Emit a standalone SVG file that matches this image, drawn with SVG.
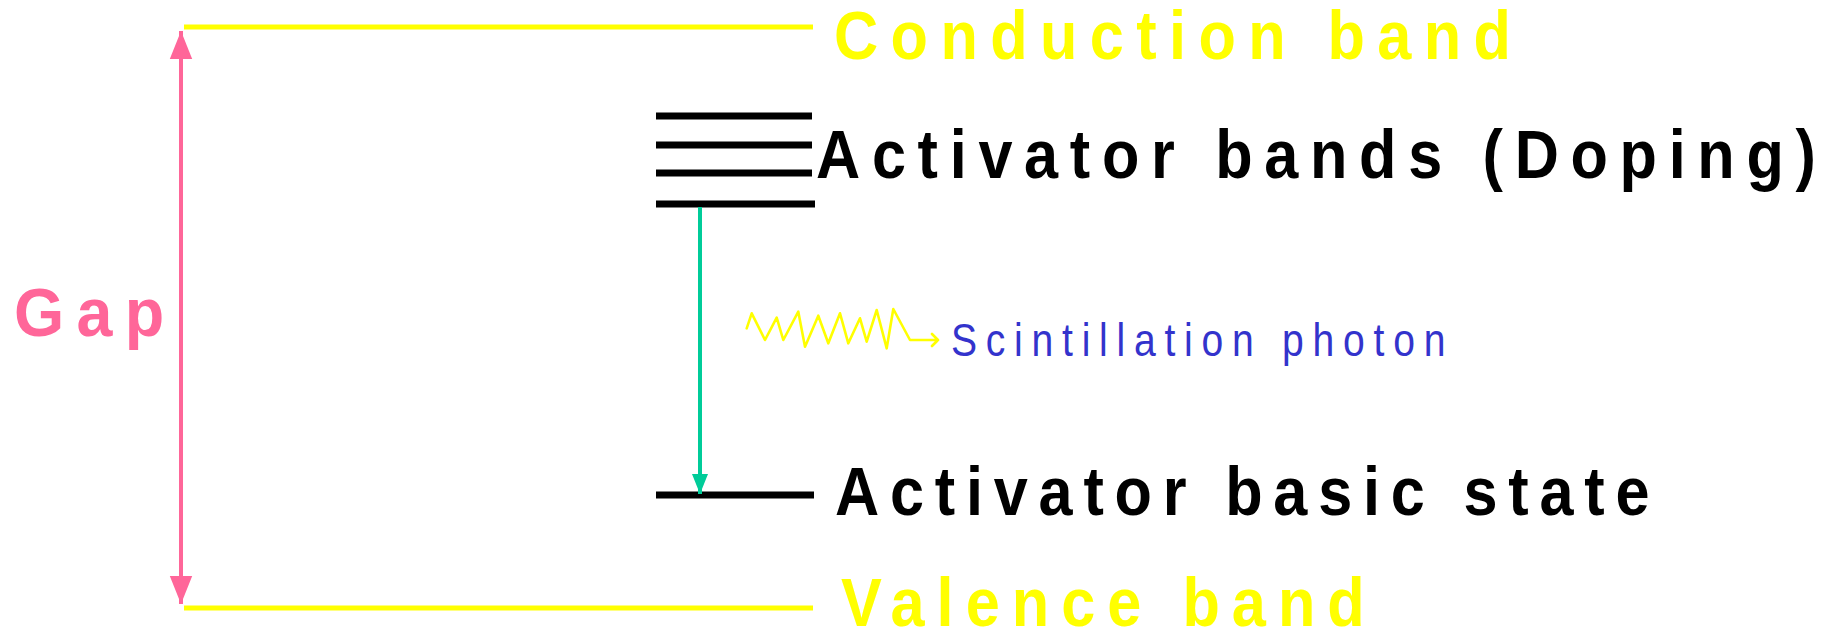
<svg xmlns="http://www.w3.org/2000/svg" width="1836" height="631" viewBox="0 0 1836 631">
<style>
.big{font-family:"Liberation Sans",Arial,sans-serif;font-weight:bold;font-size:68px}
.yel{fill:#ffff00}
.blk{fill:#000}
.band{stroke:#ffff00;stroke-width:5;fill:none}
.lvl{stroke:#000;stroke-width:7;fill:none}
</style>
<defs>
<marker id="pinkHead" viewBox="0 0 10 10" refX="10" refY="5" markerWidth="7" markerHeight="7" orient="auto-start-reverse" markerUnits="strokeWidth">
<path d="M0,1 L10,5 L0,9 Z" fill="#ff6699"/>
</marker>
<marker id="greenHead" viewBox="0 0 10 10" refX="10" refY="5" markerWidth="5" markerHeight="5" orient="auto" markerUnits="strokeWidth">
<path d="M0,1 L10,5 L0,9 Z" fill="#00cc99"/>
</marker>
</defs>
<rect width="1836" height="631" fill="#ffffff"/>

<g id="conduction-band">
<line class="band" x1="184" y1="27" x2="813" y2="27"/>
<text class="big yel" transform="translate(834,59) scale(0.9,1)" letter-spacing="13.8">Conduction band</text>
</g>

<g id="valence-band">
<line class="band" x1="184" y1="608" x2="813" y2="608"/>
<text class="big yel" transform="translate(841,626) scale(0.9,1)" letter-spacing="13.4">Valence band</text>
</g>

<g id="gap">
<text class="big" fill="#ff6699" transform="translate(14,336) scale(0.95,1)" letter-spacing="13">Gap</text>
</g>

<g id="activator-bands">
<line class="lvl" x1="656" y1="116" x2="812" y2="116"/>
<line class="lvl" x1="656" y1="145" x2="812" y2="145"/>
<line class="lvl" x1="656" y1="173" x2="812" y2="173"/>
<line class="lvl" x1="656" y1="204" x2="815" y2="204"/>
<text class="big blk" transform="translate(816,178) scale(0.9,1)" letter-spacing="13">Activator bands (Doping)</text>
</g>

<g id="activator-basic-state">
<line class="lvl" x1="656" y1="495" x2="814" y2="495"/>
<text class="big blk" transform="translate(835,515) scale(0.9,1)" letter-spacing="12">Activator basic state</text>
</g>

<g id="photon">
<path d="M746.7,328.3 L751.7,313.3 L765,340 L776.7,317.7 L783.3,340 L798.3,311.7 L805,346.7 L818.3,315.7 L828.3,343.3 L840,313.3 L848.3,343.3 L860,318.3 L866.7,341.7 L876.7,310 L886.7,348.3 L893.3,309 L910,340 L938,340 M932,334 L938,340 L932,346" fill="none" stroke="#ffff00" stroke-width="2.6" stroke-linejoin="round" stroke-linecap="round"/>
<text transform="translate(951,356) scale(0.85,1)" font-family="'Liberation Sans',Arial,sans-serif" font-size="46" fill="#3333cc" letter-spacing="10.3">Scintillation photon</text>
</g>

<g id="connectors">
<line x1="181" y1="31" x2="181" y2="604" stroke="#ff6699" stroke-width="4" marker-start="url(#pinkHead)" marker-end="url(#pinkHead)"/>
<line x1="700" y1="207" x2="700" y2="494" stroke="#00cc99" stroke-width="4" marker-end="url(#greenHead)"/>
</g>
</svg>
